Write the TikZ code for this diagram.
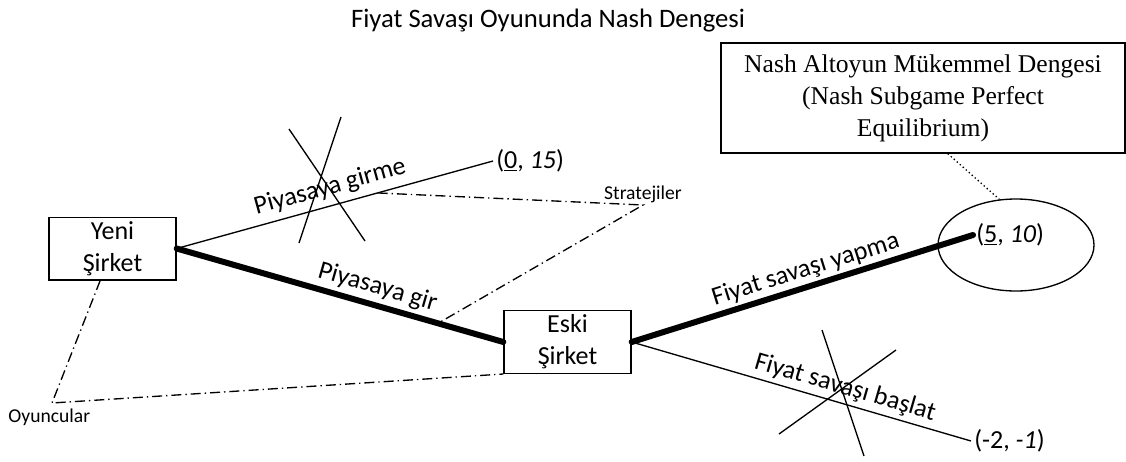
\documentclass[tikz,border=0pt]{standalone}
\usepackage{fontspec}
\setmainfont{Carlito}
\newfontfamily\serifbox{Liberation Serif}
\usetikzlibrary{shapes.geometric}

\begin{document}
\begin{tikzpicture}[x=0.75pt,y=-0.75pt,line width=1pt,
  firm/.style={draw,align=center,minimum width=95.25pt,minimum height=47pt,inner sep=0pt,font=\fontsize{19.5}{24}\selectfont},
  payoff/.style={anchor=west,inner sep=2pt,font=\fontsize{19.5}{24}\selectfont},
  move/.style={sloped,anchor=south,inner xsep=0pt,font=\fontsize{19.5}{24}\selectfont},
  best/.style={line width=4.5pt,line cap=round},
  hint/.style={dash pattern=on 7.5pt off 3pt on 1pt off 3pt},
  note/.style={inner sep=1pt,font=\fontsize{14.7}{17}\selectfont}]
\useasboundingbox (0,0) rectangle (1126,461);
\node[font=\fontsize{20}{24}\selectfont] (title) at (548,21) {Fiyat Savaşı Oyununda Nash Dengesi};
\node[firm] (yeni) at (112.5,248.5) {Yeni\\Şirket};
\node[firm] (eski) at (567.5,342) {Eski\\Şirket};
\node[payoff] (p1) at (493,161) {(\underline{0}, \textit{15})};
\node[payoff] (p2) at (973,235) {(\underline{5}, \textit{10})};
\node[payoff] (p3) at (971,441) {(-2, \textit{-1})};
\node[draw,ellipse,minimum width=117pt,minimum height=69pt] (ring) at (1016,245) {};
\node[draw,align=center,minimum width=303pt,minimum height=82.5pt,font=\serifbox\fontsize{19.2}{24}\selectfont] (spe) at (923,98) {Nash Altoyun Mükemmel Dengesi\\(Nash Subgame Perfect\\Equilibrium)};
\coordinate (strat) at (643,205);
\coordinate (oyun) at (52,403);
\node[note,anchor=south] (stratlbl) at (strat) {Stratejiler};
\node[note,anchor=north,inner ysep=4pt,xshift=-2pt] (oyunlbl) at (oyun) {Oyuncular};

\draw (yeni.east) -- node[move,pos=0.5,inner ysep=4.7pt] {Piyasaya girme} coordinate[pos=0.635] (girme) (p1.west);
\draw[best] (yeni.east) -- node[move,pos=0.6,inner ysep=2.8pt] {Piyasaya gir} coordinate[pos=0.8] (gir) (eski.west);
\draw[best] (eski.east) -- node[move,pos=0.525,inner ysep=2pt] {Fiyat savaşı yapma} (p2.west);
\draw (eski.east) -- node[move,pos=0.616,inner ysep=3pt] {Fiyat savaşı başlat} (p3.west);

\draw (289,129) -- (365,241) (341,117) -- (299,243);
\draw (822,330) -- (864,456) (896,350) -- (779,434);

\draw[hint] (girme) -- (strat) -- (gir);
\draw[hint] (yeni.-111) -- (oyun) -- (eski.south west);
\draw[dotted] (spe.-66) -- (ring.110);
\end{tikzpicture}
\end{document}
